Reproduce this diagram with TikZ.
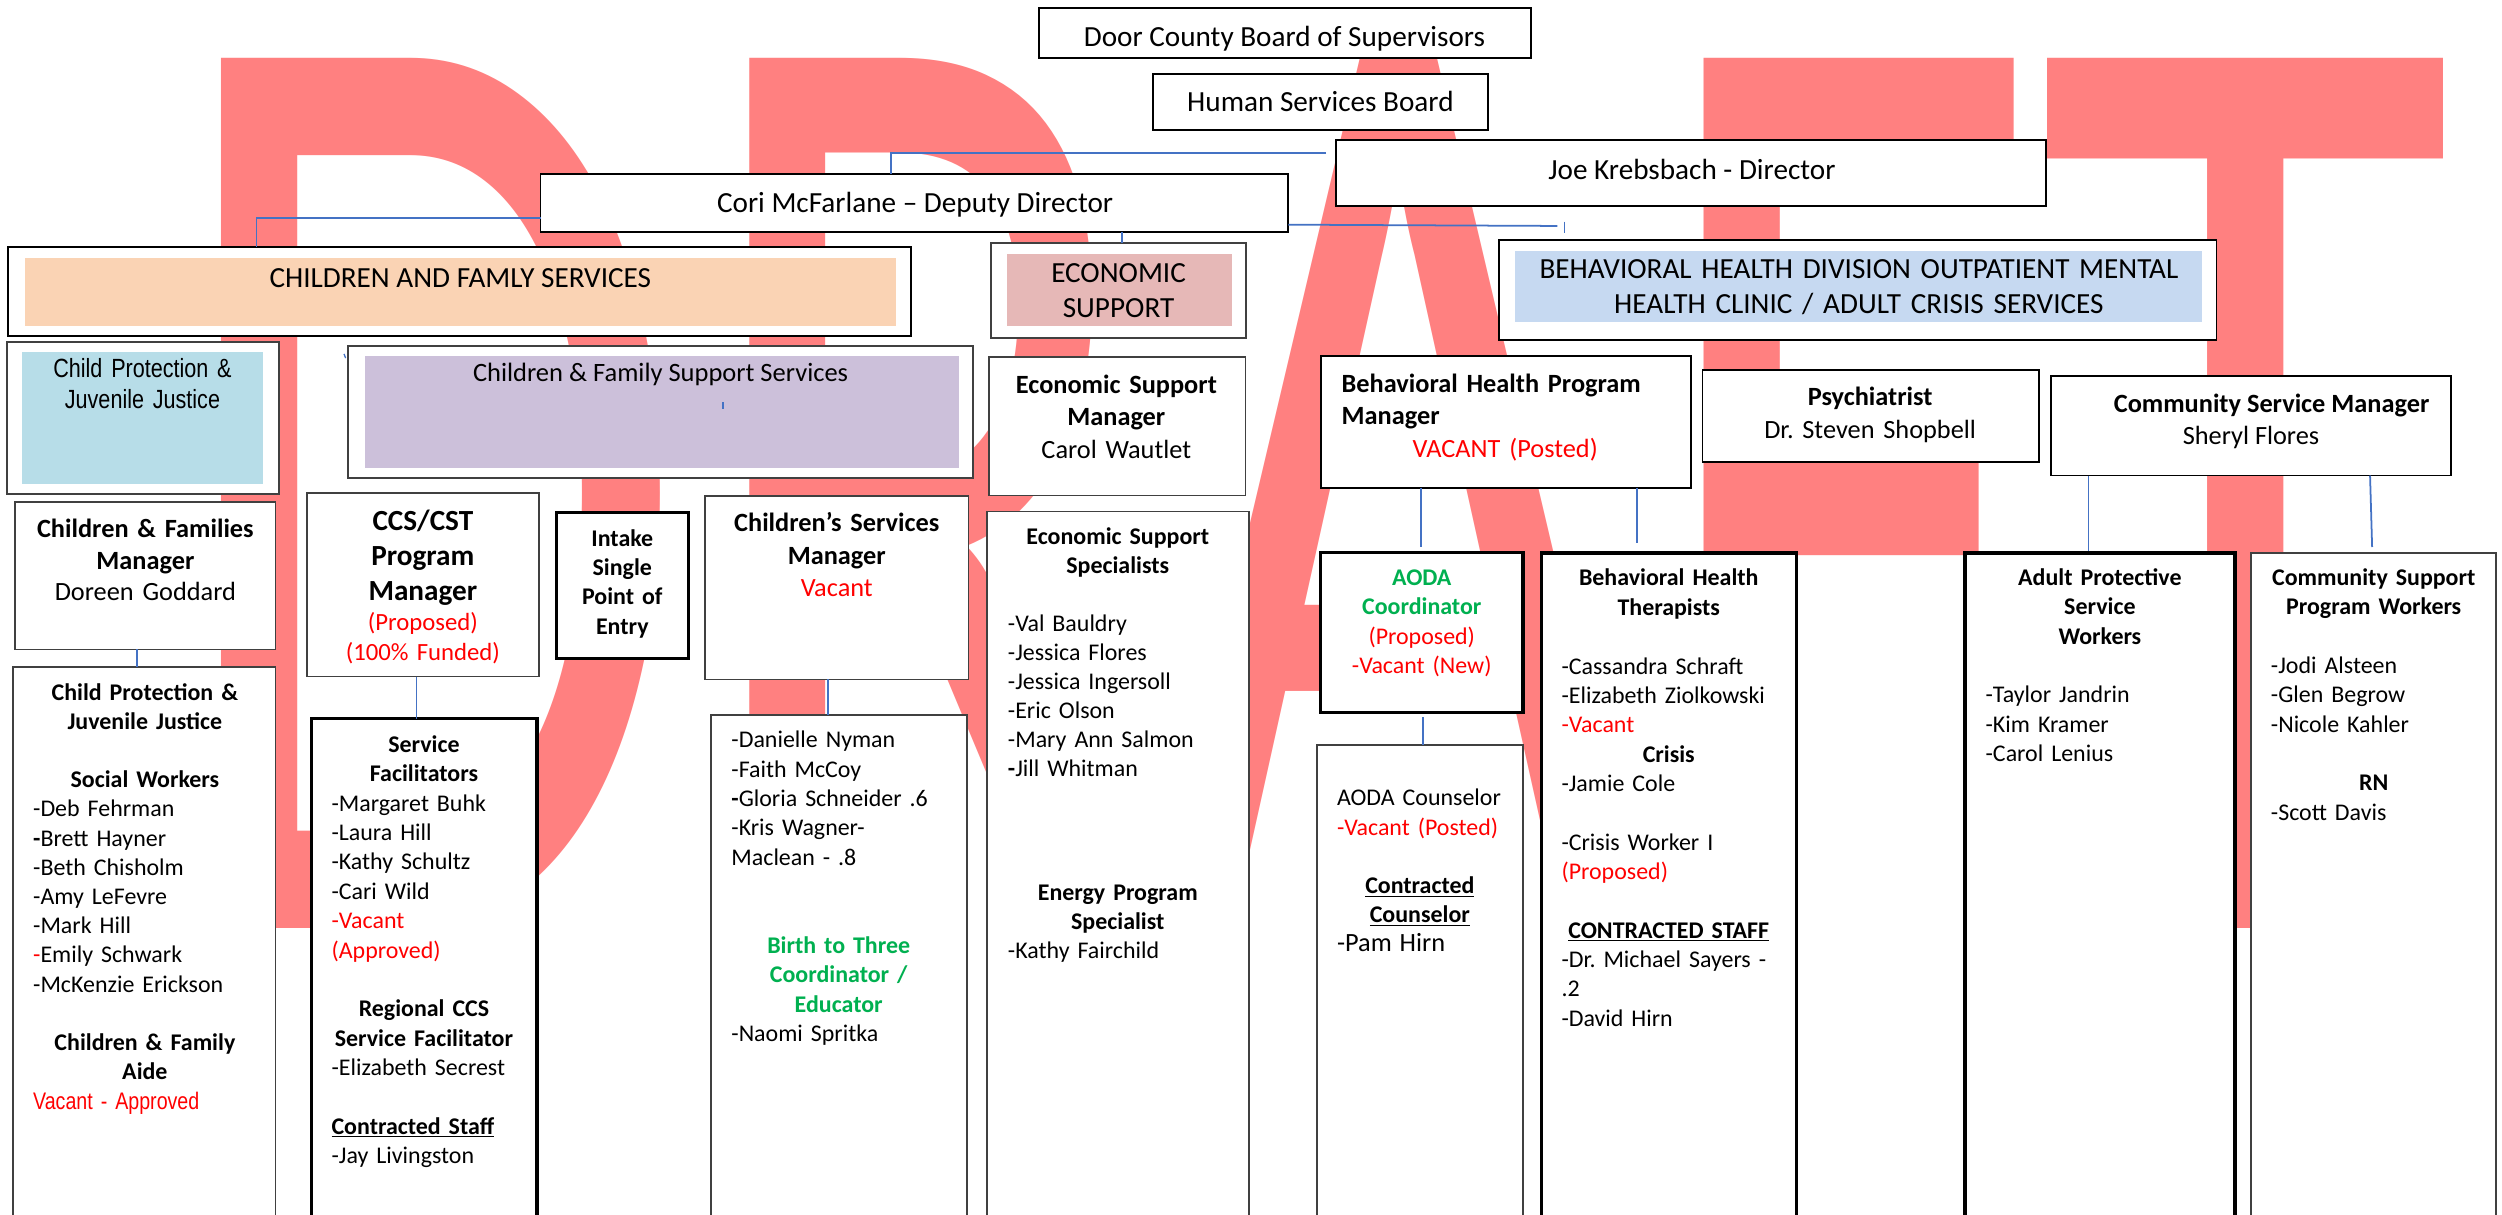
\documentclass[tikz,border=0pt]{standalone}
\usepackage{fontspec}
\usepackage{graphicx}
\setmainfont{Carlito}
\newfontfamily\narrowfont[FakeStretch=0.82]{Liberation Sans}
\newcommand\fsz[2]{\fontsize{#1}{#2}\selectfont}
\newcommand\ctr[1]{\makebox[\linewidth][c]{#1}}
\definecolor{wm}{RGB}{255,128,128}
\definecolor{connc}{RGB}{68,114,196}
\definecolor{bgray}{RGB}{64,64,64}
\definecolor{peach}{RGB}{250,211,180}
\definecolor{econc}{RGB}{230,184,183}
\definecolor{bhblue}{RGB}{198,217,241}
\definecolor{cpblue}{RGB}{183,221,232}
\definecolor{purp}{RGB}{204,192,218}
\definecolor{grn}{RGB}{0,176,80}
\definecolor{rd}{RGB}{255,0,0}
\newcommand\obox[6][orgbox]{\node[#1, minimum width={#5-#3}, minimum height={#6-#4}] (#2) at (#3,#4) {};}
\newcommand\oband[6]{\node[band=#6, minimum width={#4-#2}, minimum height={#5-#3}] (#1) at (#2,#3) {};}
\frenchspacing
\begin{document}
\begin{tikzpicture}[x=1pt,y=-1pt,
  orgbox/.style={draw=bgray, line width=1.1pt, fill=white, inner sep=0pt, outer sep=0pt, anchor=north west},
  darkbox/.style={orgbox, draw=black},
  thickbox/.style={orgbox, draw=black, line width=2pt},
  band/.style={fill=#1, draw=none, inner sep=0pt, outer sep=0pt, anchor=north west},
  conn/.style={draw=connc, line width=1.1pt},
  tx/.style={inner sep=0pt, outer sep=0pt, anchor=base, font=\frenchspacing\fsz{15}{18.4}},
  ctx/.style={tx, align=center},
  ltx/.style={tx, align=left, anchor=base west},
  big/.style={tx, font=\fsz{18.3}{22}},
  mid/.style={tx, font=\fsz{16.5}{20.2}}]
\useasboundingbox (0,0) rectangle (1568,761);
\fill[white] (0,0) rectangle (1568,761);
% watermark
\node[inner sep=0pt, outer sep=0pt, anchor=base west, text=wm] (draft) at (102.3,582)
  {\scalebox{5.35}[8.5]{\fsz{100}{100}DRAFT}};
% top boxes
\obox[darkbox]{door}{651}{5.2}{959.5}{36.5}
\obox[darkbox]{hsb}{722.4}{46.4}{932.7}{81.5}
\obox[darkbox]{joe}{837.4}{87.7}{1282.2}{129.1}
\obox[darkbox]{cori}{338.8}{109.2}{807.4}{145.2}
\node[big] (doortx) at (805,29) {Door County Board of Supervisors};
\node[big] (hsbtx) at (827.5,70) {Human Services Board};
\node[big] (joetx) at (1060.3,112.3) {Joe Krebsbach - Director};
\node[big] (coritx) at (573.5,133.2) {Cori McFarlane – Deputy Director};
% division headers
\obox[darkbox]{cfs}{5}{155}{571}{210.6}
\oband{cfsin}{15.5}{161.5}{561.6}{204}{peach}
\node[big] (cfstx) at (288.5,180.3) {CHILDREN AND FAMLY SERVICES};
\obox{econ}{621}{152.5}{781}{211.6}
\oband{econin}{631}{159}{772}{204}{econc}
\node[big, align=center, text width=150pt] (econtx) at (701,176.8) {ECONOMIC\\SUPPORT};
\obox[darkbox]{bh}{939.5}{150.4}{1389}{213}
\oband{bhin}{949.5}{157}{1380}{202}{bhblue}
\node[big, align=center, text width=440pt] (bhtx) at (1165,174.6) {BEHAVIORAL HEALTH DIVISION OUTPATIENT MENTAL\\HEALTH CLINIC / ADULT CRISIS SERVICES};
% second row
\obox{cpj}{4.2}{214.1}{175}{309.8}
\oband{cpjin}{13.8}{220.6}{164.8}{303.3}{cpblue}
\node[ctx, text width=150pt, font=\narrowfont\fsz{16.5}{19.4}] (cpjtx) at (89.3,236.7) {Child Protection \&\\Juvenile Justice};
\obox{cfss}{218.3}{216.6}{609.6}{299.5}
\oband{cfssin}{228.7}{223.1}{600.7}{293}{purp}
\node[tx, font=\fsz{16.6}{20}] (cfsstx) at (414,239.2) {Children \& Family Support Services};
\obox{esm}{620}{223.5}{780.5}{310.5}
\node[ctx, font=\fsz{16.5}{20.2}, text width=150pt] (esmtx) at (699.6,246.7) {\textbf{Economic Support}\\\textbf{Manager}\\Carol Wautlet};
\obox[darkbox]{bhpm}{827.7}{222.9}{1059.7}{305.6}
\node[ltx, font=\fsz{16.5}{20.2}, text width=205pt] (bhpmtx) at (840.8,246) {\textbf{Behavioral Health Program}\\\textbf{Manager}\\\ctr{\color{rd}VACANT (Posted)}};
\obox[darkbox]{psy}{1067}{231.7}{1278}{289.7}
\node[ctx, font=\fsz{16.5}{20.8}, text width=200pt] (psytx) at (1172,254.2) {\textbf{Psychiatrist}\\Dr. Steven Shopbell};
\obox[darkbox]{csm}{1285.4}{235.6}{1536}{298}
\node[mid] (csmtx) at (1423.6,258.4) {\textbf{Community Service Manager}};
\node[mid] (csmname) at (1410.7,278.7) {Sheryl Flores};
% third row
\obox{cfm}{9.2}{314.6}{172.6}{407}
\node[ctx, font=\fsz{16.5}{19.75}, text width=160pt] (cfmtx) at (91.1,337) {\textbf{Children \& Families}\\\textbf{Manager}\\Doreen Goddard};
\obox{ccs}{192.6}{309}{337.8}{424}
\node[ctx, font=\fsz{18.3}{22}\bfseries, text width=140pt] (ccstx) at (265,332.5) {CCS/CST\\Program\\Manager};
\node[ctx, font=\fsz{15.5}{18.5}, text width=140pt, text=rd] (ccstx2) at (265,395.4) {(Proposed)\\(100\% Funded)};
\obox[thickbox]{intake}{349}{321.3}{431.6}{412.8}
\node[ctx, font=\fsz{15}{18.4}\bfseries, text width=80pt] (intaketx) at (390,342.3) {Intake\\Single\\Point of\\Entry};
\obox{csvm}{441.6}{311}{607}{425.8}
\node[ctx, font=\fsz{16.5}{20.3}, text width=160pt] (csvmtx) at (524.4,333.2) {\textbf{Children’s Services}\\\textbf{Manager}\\{\color{rd}Vacant}};
\obox{ess}{618.5}{320.5}{782.8}{780}
\node[ltx, font=\fsz{15}{18.2}, text width=137.6pt] (esstx) at (631.7,341) {%
\ctr{\bfseries Economic Support}\\\ctr{\bfseries Specialists}\\\mbox{}\\
-Val Bauldry\\-Jessica Flores\\-Jessica Ingersoll\\-Eric Olson\\-Mary Ann Salmon\\\textbf{-}Jill Whitman};
\node[ltx, font=\fsz{15}{18.3}, text width=137.6pt] (esstx2) at (631.7,564.1) {%
\ctr{\bfseries Energy Program}\\\ctr{\bfseries Specialist}\\-Kathy Fairchild};
\obox[thickbox]{aodac}{827.7}{346.3}{954.4}{446.3}
\node[ctx, text width=120pt] (aodactx) at (891,366.9) {\textcolor{grn}{\bfseries AODA}\\\textcolor{grn}{\bfseries Coordinator}\\\textcolor{rd}{(Proposed)}\\\textcolor{rd}{-Vacant (New)}};
\obox{aodal}{825.5}{466.9}{954.4}{780}
\node[ltx, font=\fsz{15}{18.3}, text width=103.8pt] (aodaltx) at (837.9,505.1) {%
AODA Counselor\\{\color{rd}-Vacant (Posted)}\\\mbox{}\\\ctr{\bfseries\underline{Contracted}}\\\ctr{\bfseries\underline{Counselor}}\\{\fsz{16.5}{18.3}-Pam Hirn}};
\obox[thickbox]{bht}{965.8}{346.6}{1125.8}{780}
\node[ltx, text width=134.4pt] (bhttx) at (978.6,367.2) {%
\ctr{\bfseries Behavioral Health}\\\ctr{\bfseries Therapists}\\\mbox{}\\
-Cassandra Schraft\\-Elizabeth Ziolkowski\\{\color{rd}-Vacant}\\\ctr{\bfseries Crisis}\\-Jamie Cole\\\mbox{}\\
-Crisis Worker I\\{\color{rd}(Proposed)}\\\mbox{}\\\ctr{\bfseries\underline{CONTRACTED STAFF}}\\
-Dr. Michael Sayers -\\.2\\-David Hirn};
\obox[thickbox]{aps}{1231.5}{346.6}{1400.7}{780}
\node[ltx, text width=143.2pt] (apstx) at (1244.4,366.9) {%
\ctr{\bfseries Adult Protective}\\\ctr{\bfseries Service}\\\ctr{\bfseries Workers}\\\mbox{}\\
-Taylor Jandrin\\-Kim Kramer\\-Carol Lenius};
\obox{csp}{1410.6}{346.6}{1564.4}{780}
\node[ltx, text width=128.8pt] (csptx) at (1423.2,366.9) {%
\ctr{\bfseries Community Support}\\\ctr{\bfseries Program Workers}\\\mbox{}\\
-Jodi Alsteen\\-Glen Begrow\\-Nicole Kahler\\\mbox{}\\\ctr{\bfseries RN}\\-Scott Davis};
% lower left lists
\obox{cpl}{8}{418}{172.6}{780}
\node[ltx, font=\fsz{15}{18.3}, text width=140pt] (cpltx) at (20.8,438.8) {%
\ctr{\bfseries Child Protection \&}\\\ctr{\bfseries Juvenile Justice}\\\mbox{}\\\ctr{\bfseries Social Workers}\\
-Deb Fehrman\\\textbf{-}Brett Hayner\\-Beth Chisholm\\-Amy LeFevre\\-Mark Hill\\{\color{rd}-}Emily Schwark\\-McKenzie Erickson\\\mbox{}\\
\ctr{\bfseries Children \& Family}\\\ctr{\bfseries Aide}\\{\narrowfont\color{rd}Vacant - Approved}};
\obox[thickbox]{sf}{195}{450.5}{336.5}{780}
\node[ltx, text width=115.8pt] (sftx) at (207.8,471.6) {%
\ctr{\bfseries Service}\\\ctr{\bfseries Facilitators}\\
-Margaret Buhk\\-Laura Hill\\-Kathy Schultz\\-Cari Wild\\{\color{rd}-Vacant}\\{\color{rd}(Approved)}\\\mbox{}\\
\ctr{\bfseries Regional CCS}\\\ctr{\bfseries Service Facilitator}\\-Elizabeth Secrest\\\mbox{}\\
\textbf{\underline{Contracted Staff}}\\-Jay Livingston};
\obox{csl}{445.6}{448}{605.9}{780}
\node[ltx, text width=134.4pt] (csltx) at (458.4,468.7) {%
-Danielle Nyman\\-Faith McCoy\\\textbf{-}Gloria Schneider .6\\-Kris Wagner-\\Maclean - .8\\\mbox{}\\\mbox{}\\
\ctr{\color{grn}\bfseries Birth to Three}\\\ctr{\color{grn}\bfseries Coordinator /}\\\ctr{\color{grn}\bfseries Educator}\\-Naomi Spritka};
% connectors
\coordinate (j1) at (831,96.1);
\draw[conn] (j1) -| ([xshift=219.4]cori.north west);
\draw[conn] ([yshift=-27.3]cori.north west) -| ([xshift=155.8]cfs.north west);
\draw[conn] ([xshift=129.9]cori.south) -- ([xshift=129.9]cori.south |- econ.north);
\coordinate (k1) at (976,141.6);
\draw[conn] ([yshift=-31.6]cori.north east) -- (k1);
\coordinate (k2) at (980.5,138.9);
\coordinate (k3) at (980.5,146.2);
\draw[conn] (k2) -- (k3);
\coordinate (p1) at (452.9,252.1);
\coordinate (p2) at (452.9,256.5);
\draw[conn] (p1) -- (p2);
\coordinate (p3) at (215.6,221.8);
\coordinate (p4) at (216.6,224.4);
\draw[conn, line width=0.8pt] (p3) -- (p4);
\draw[conn] ([xshift=-5]cfm.south) -- ([xshift=-5]cfm.south |- cpl.north);
\draw[conn] ([xshift=-4.2]ccs.south) -- ([xshift=-4.2]ccs.south |- sf.north);
\draw[conn] ([xshift=-5.3]csvm.south) -- ([xshift=-5.3]csvm.south |- csl.north);
\coordinate (b1) at (890.4,342.8);
\coordinate (b2) at (1025.7,340.4);
\draw[conn] ([xshift=-53.3]bhpm.south) -- (b1);
\draw[conn] ([xshift=82]bhpm.south) -- (b2);
\coordinate (a1) at (891.7,449.6);
\draw[conn] (a1) -- (a1 |- aodal.north);
\coordinate (c1) at (1308.8,345.4);
\coordinate (c2) at (1486.6,342.8);
\draw[conn] ([xshift=-101.9]csm.south) -- (c1);
\draw[conn] ([xshift=74.6]csm.south) -- (c2);
\end{tikzpicture}
\end{document}
